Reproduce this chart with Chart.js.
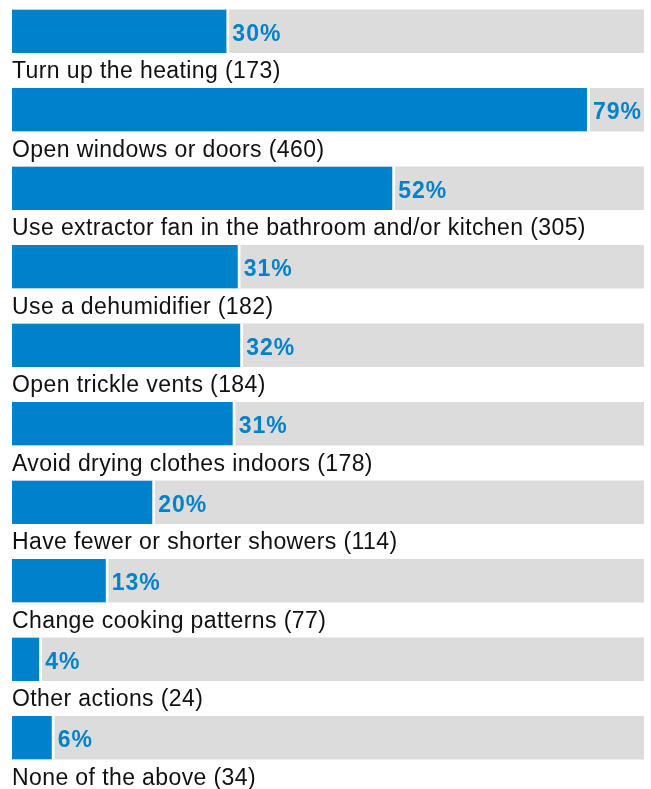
<!DOCTYPE html>
<html lang="en">

<head>
    <meta charset="UTF-8">
    <title>Actions taken</title>
    <style>
        body {
            margin: 0;
            padding: 0;
            background-color: #fff;
            overflow: hidden;
        }

        .chart-wrap {
            position: relative;
            top: -8px;
            width: 651px;
            height: 797px;
        }
    </style>
    <script src="https://cdn.jsdelivr.net/npm/chart.js"></script>
</head>

<body>
    <div class="chart-wrap">
        <canvas id="actionsChart"></canvas>
    </div>

    <script>
        const categories = [
            'Turn up the heating',
            'Open windows or doors',
            'Use extractor fan in the bathroom and/or kitchen',
            'Use a dehumidifier',
            'Open trickle vents',
            'Avoid drying clothes indoors',
            'Have fewer or shorter showers',
            'Change cooking patterns',
            'Other actions',
            'None of the above'
        ];
        const counts = [173, 460, 305, 182, 184, 178, 114, 77, 24, 34];
        const percents = [30, 79, 52, 31, 32, 31, 20, 13, 4, 6];

        // full width of the grey track, in respondents
        const trackMax = 503;

        const BLUE = '#0082ca';
        const GREY = '#dcdcdc';

        // category name under each bar, percentage just right of the blue part
        const barLabels = {
            id: 'barLabels',
            afterDatasetsDraw(chart) {
                const ctx = chart.ctx;
                const bars = chart.getDatasetMeta(0).data;
                ctx.save();
                bars.forEach((bar, i) => {
                    const bottom = bar.y + bar.height / 2;
                    ctx.textAlign = 'left';
                    ctx.textBaseline = 'alphabetic';

                    ctx.fillStyle = '#111';
                    ctx.letterSpacing = '0.4px';
                    ctx.font = '23px "Liberation Sans", Arial, sans-serif';
                    ctx.fillText(categories[i] + ' (' + counts[i] + ')', 12, bottom + 25);

                    ctx.fillStyle = BLUE;
                    ctx.letterSpacing = '1px';
                    ctx.font = 'bold 23px "Liberation Sans", Arial, sans-serif';
                    ctx.fillText(percents[i] + '%', bar.x + 3, bar.y + 9.5);
                });
                ctx.restore();
            }
        };

        new Chart(document.getElementById('actionsChart'), {
            type: 'bar',
            data: {
                labels: categories,
                datasets: [{
                    data: counts,
                    backgroundColor: BLUE,
                    borderColor: '#fff',
                    borderWidth: { top: 0, right: 3, bottom: 0, left: 0 },
                    borderSkipped: false,
                    grouped: false,
                    barPercentage: 1,
                    categoryPercentage: 0.555
                }, {
                    data: categories.map(() => trackMax),
                    backgroundColor: GREY,
                    borderWidth: 0,
                    grouped: false,
                    barPercentage: 1,
                    categoryPercentage: 0.555
                }]
            },
            options: {
                indexAxis: 'y',
                responsive: true,
                maintainAspectRatio: false,
                animation: false,
                layout: {
                    padding: { left: 12, right: 7, top: 0, bottom: 12 }
                },
                plugins: {
                    legend: { display: false },
                    tooltip: { enabled: false }
                },
                scales: {
                    x: { display: false, min: 0, max: trackMax },
                    y: { display: false }
                }
            },
            plugins: [barLabels]
        });
    </script>
</body>

</html>
